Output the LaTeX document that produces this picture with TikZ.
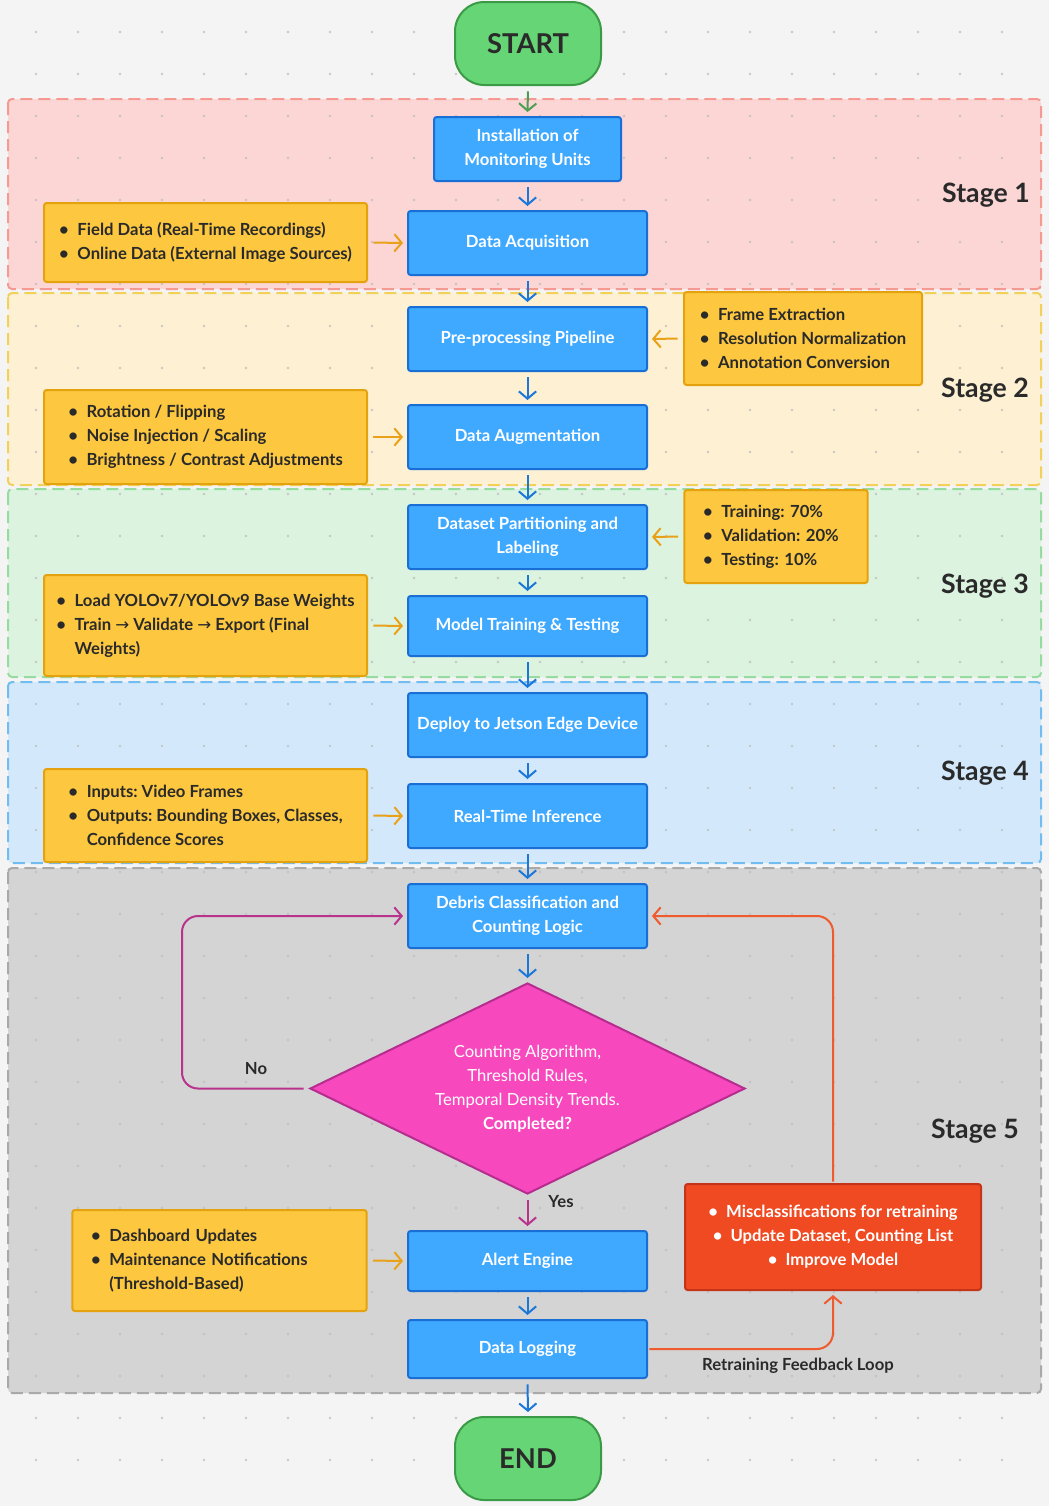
\documentclass[tikz,border=0pt]{standalone}
\usepackage{fontspec}
\setmainfont{Lato}
\newfontfamily\arrowfont{DejaVu Sans}
\usepackage{xcolor}
\usetikzlibrary{arrows.meta,calc,positioning,shapes.geometric}
\definecolor{canvas}{HTML}{F4F4F4}
\definecolor{dotc}{HTML}{BDBDBD}
\definecolor{bandA}{HTML}{FCD5D5}\definecolor{edgeA}{HTML}{F59A93}
\definecolor{bandB}{HTML}{FDF0D3}\definecolor{edgeB}{HTML}{F2D15A}
\definecolor{bandC}{HTML}{DBF3DF}\definecolor{edgeC}{HTML}{96DBA0}
\definecolor{bandD}{HTML}{D3E9FB}\definecolor{edgeD}{HTML}{71BDF2}
\definecolor{bandE}{HTML}{D4D4D4}\definecolor{edgeE}{HTML}{A9A9A9}
\definecolor{termg}{HTML}{66D575}\definecolor{termedge}{HTML}{3B9A46}
\definecolor{procblue}{HTML}{3FA9FF}\definecolor{procedge}{HTML}{1A6FD6}
\definecolor{noteyel}{HTML}{FDC840}\definecolor{noteedge}{HTML}{E5A20F}
\definecolor{fixred}{HTML}{F04A22}\definecolor{fixedge}{HTML}{C33418}
\definecolor{decpink}{HTML}{F748BE}\definecolor{decedge}{HTML}{B52D8F}
\definecolor{arrblue}{HTML}{1C78D8}\definecolor{arrorange}{HTML}{EAA11A}
\definecolor{arrmag}{HTML}{B8338C}\definecolor{arrred}{HTML}{EF5A2E}
\definecolor{arrgreen}{HTML}{4C9E53}\definecolor{inkdark}{HTML}{2A2A2A}
\tikzset{band/.style 2 args={fill=#1,draw=#2,line width=1.5pt,
           dash pattern=on 9pt off 4.5pt,rounded corners=3pt},
         term/.style={draw=termedge,fill=termg,line width=1.5pt,rounded corners=22pt,
           minimum width=109.5pt,minimum height=62.25pt,text=inkdark,
           font=\bfseries\fontsize{20.5}{24}\selectfont},
         proc/.style={draw=procedge,fill=procblue,line width=1.5pt,rounded corners=2pt,
           minimum width=179.25pt,minimum height=48pt,align=center,text=white,
           font=\bfseries\fontsize{12.5}{18}\selectfont},
         note/.style={draw=noteedge,fill=noteyel,line width=1.5pt,rounded corners=2pt,
           inner xsep=6pt,align=left,text=inkdark,
           font=\bfseries\fontsize{12.5}{18}\selectfont},
         decide/.style={diamond,aspect=2.06,draw=decedge,fill=decpink,line width=1.5pt,
           inner sep=0pt,minimum width=326.25pt,minimum height=158.25pt,align=center,
           text=white,font=\fontsize{12.5}{18}\selectfont},
         fix/.style={draw=fixedge,fill=fixred,line width=1.5pt,rounded corners=2pt,
           minimum width=222pt,minimum height=79.5pt,align=center,text=white,
           font=\bfseries\fontsize{12.5}{18}\selectfont},
         flow/.style={-{Straight Barb[length=5.5pt,width=13pt]},line width=1.5pt,
           arrblue,shorten <=4pt,shorten >=3pt},
         side/.style={flow,arrorange},
         loopar/.style={flow,arrmag,rounded corners=12pt},
         fback/.style={flow,arrred,rounded corners=12pt,shorten <=1pt},
         stagelbl/.style={anchor=east,inner sep=0pt,text=inkdark,
           font=\bfseries\fontsize{20}{22}\selectfont},
         edgelbl/.style={text=inkdark,font=\bfseries\fontsize{12.5}{14}\selectfont}}
\newcommand{\bitem}{\makebox[1.1em][l]{\textbullet}}
\newcommand{\bskip}{\makebox[1.1em][l]{}}
\newcommand{\rarr}{{\arrowfont\mdseries →}}
\frenchspacing

\begin{document}
\begin{tikzpicture}[x=0.75pt,y=-0.75pt]
\useasboundingbox (0,0) rectangle (1049,1506);
\fill[canvas] (0,0) rectangle (1049,1506);
% stage bands
\draw[band={bandA}{edgeA}] (8,99) rectangle (1041,289);
\draw[band={bandB}{edgeB}] (8,293) rectangle (1041,485);
\draw[band={bandC}{edgeC}] (8,489) rectangle (1041,677);
\draw[band={bandD}{edgeD}] (8,682) rectangle (1041,863);
\draw[band={bandE}{edgeE}] (8,868) rectangle (1041,1393);
% dot grid
\foreach \x in {36,78,...,1040}
  \foreach \y in {32,74,...,1500}
    \fill[dotc,opacity=0.8] (\x,\y) circle (1.1pt);
\node[stagelbl] (st1) at (1030,195) {Stage 1};
\node[stagelbl] (st2) at (1029,390) {Stage 2};
\node[stagelbl] (st3) at (1029,586) {Stage 3};
\node[stagelbl] (st4) at (1029,773) {Stage 4};
\node[stagelbl] (st5) at (1019,1131) {Stage 5};
% main column
\node[term] (start) at (528,43.5) {START};
\node[proc,minimum width=140.25pt] (inst) at (527.5,149) {Installation of\\Monitoring Units};
\node[proc] (acq) at (527.5,243) {Data Acquisition};
\node[proc] (prep) at (527.5,339) {Pre-processing Pipeline};
\node[proc] (aug) at (527.5,437) {Data Augmentation};
\node[proc] (part) at (527.5,537) {Dataset Partitioning and\\Labeling};
\node[proc,minimum height=45pt] (train) at (527.5,626) {Model Training \& Testing};
\node[proc] (deploy) at (527.5,725) {Deploy to Jetson Edge Device};
\node[proc] (infer) at (527.5,816) {Real-Time Inference};
\node[proc] (debris) at (527.5,916) {Debris Classification and\\Counting Logic};
\node[decide] (dec) at (527.5,1088.5) {Counting Algorithm,\\Threshold Rules,\\Temporal Density Trends.\\\textbf{Completed?}};
\node[proc,minimum height=45pt] (alert) at (527.5,1261) {Alert Engine};
\node[proc,minimum height=43.5pt] (log) at (527.5,1349) {Data Logging};
\node[term] (finish) at (528,1458.5) {END};
% side notes
\node[note,minimum width=242.25pt,minimum height=59.25pt] (field) at (205.5,242.5)
  {\bitem Field Data (Real-Time Recordings)\\\bitem Online Data (External Image Sources)};
\node[note,minimum width=178.5pt,minimum height=69.75pt] (frame) at (803,338.5)
  {\bitem Frame Extraction\\\bitem Resolution Normalization\\\bitem Annotation Conversion};
\node[note,minimum width=242.25pt,minimum height=70.5pt] (rot) at (205.5,437)
  {\bitem Rotation / Flipping\\\bitem Noise Injection / Scaling\\\bitem Brightness / Contrast Adjustments};
\node[note,inner xsep=14pt,text width=109.5pt,minimum height=69.75pt] (split) at (776,536.5)
  {\bitem Training: 70\%\\\bitem Validation: 20\%\\\bitem Testing: 10\%};
\node[note,minimum width=242.25pt,minimum height=75.75pt] (yolo) at (205.5,625.5)
  {\bitem Load YOLOv7/YOLOv9 Base Weights\\\bitem Train \rarr{} Validate \rarr{} Export (Final\\\bskip Weights)};
\node[note,minimum width=242.25pt,minimum height=69.75pt] (inputs) at (205.5,815.5)
  {\bitem Inputs: Video Frames\\\bitem Outputs: Bounding Boxes, Classes,\\\bskip Confidence Scores};
\node[note,inner xsep=14pt,text width=192.75pt,minimum height=75.75pt] (dash) at (219.5,1260.5)
  {\bitem Dashboard Updates\\\bitem Maintenance Notifications\\\bskip (Threshold-Based)};
\node[fix] (retrain) at (833,1237)
  {\textbullet\ \ Misclassifications for retraining\\\textbullet\ \ Update Dataset, Counting List\\\textbullet\ \ Improve Model};
% main flow
\draw[flow,arrgreen] (start.south) -- (inst.north);
\foreach \a/\b in {inst/acq,acq/prep,prep/aug,aug/part,part/train,train/deploy,
                   deploy/infer,infer/debris,debris/dec,alert/log,log/finish}
  \draw[flow] (\a.south) -- (\b.north);
% notes into the column
\foreach \a/\b in {field/acq,rot/aug,yolo/train,inputs/infer,dash/alert}
  \draw[side] (\a.east) -- (\b.west);
\draw[side] (frame.west) -- (prep.east);
\draw[side] (split.west) -- (part.east);
% decision
\coordinate (nobend) at (182,1088.5);
\draw[loopar] (dec.west) -- (nobend) |- (debris.west);
\draw[loopar] (dec.south) -- (alert.north);
\node[edgelbl] (nolbl) at (256,1069) {No};
\node[edgelbl] (yeslbl) at (561,1202) {Yes};
% retraining loop
\draw[fback] (log.east) -| (retrain.south);
\draw[fback] (retrain.north) |- (debris.east);
\node[edgelbl] (fblbl) at (798,1366) {Retraining Feedback Loop};
\end{tikzpicture}
\end{document}
